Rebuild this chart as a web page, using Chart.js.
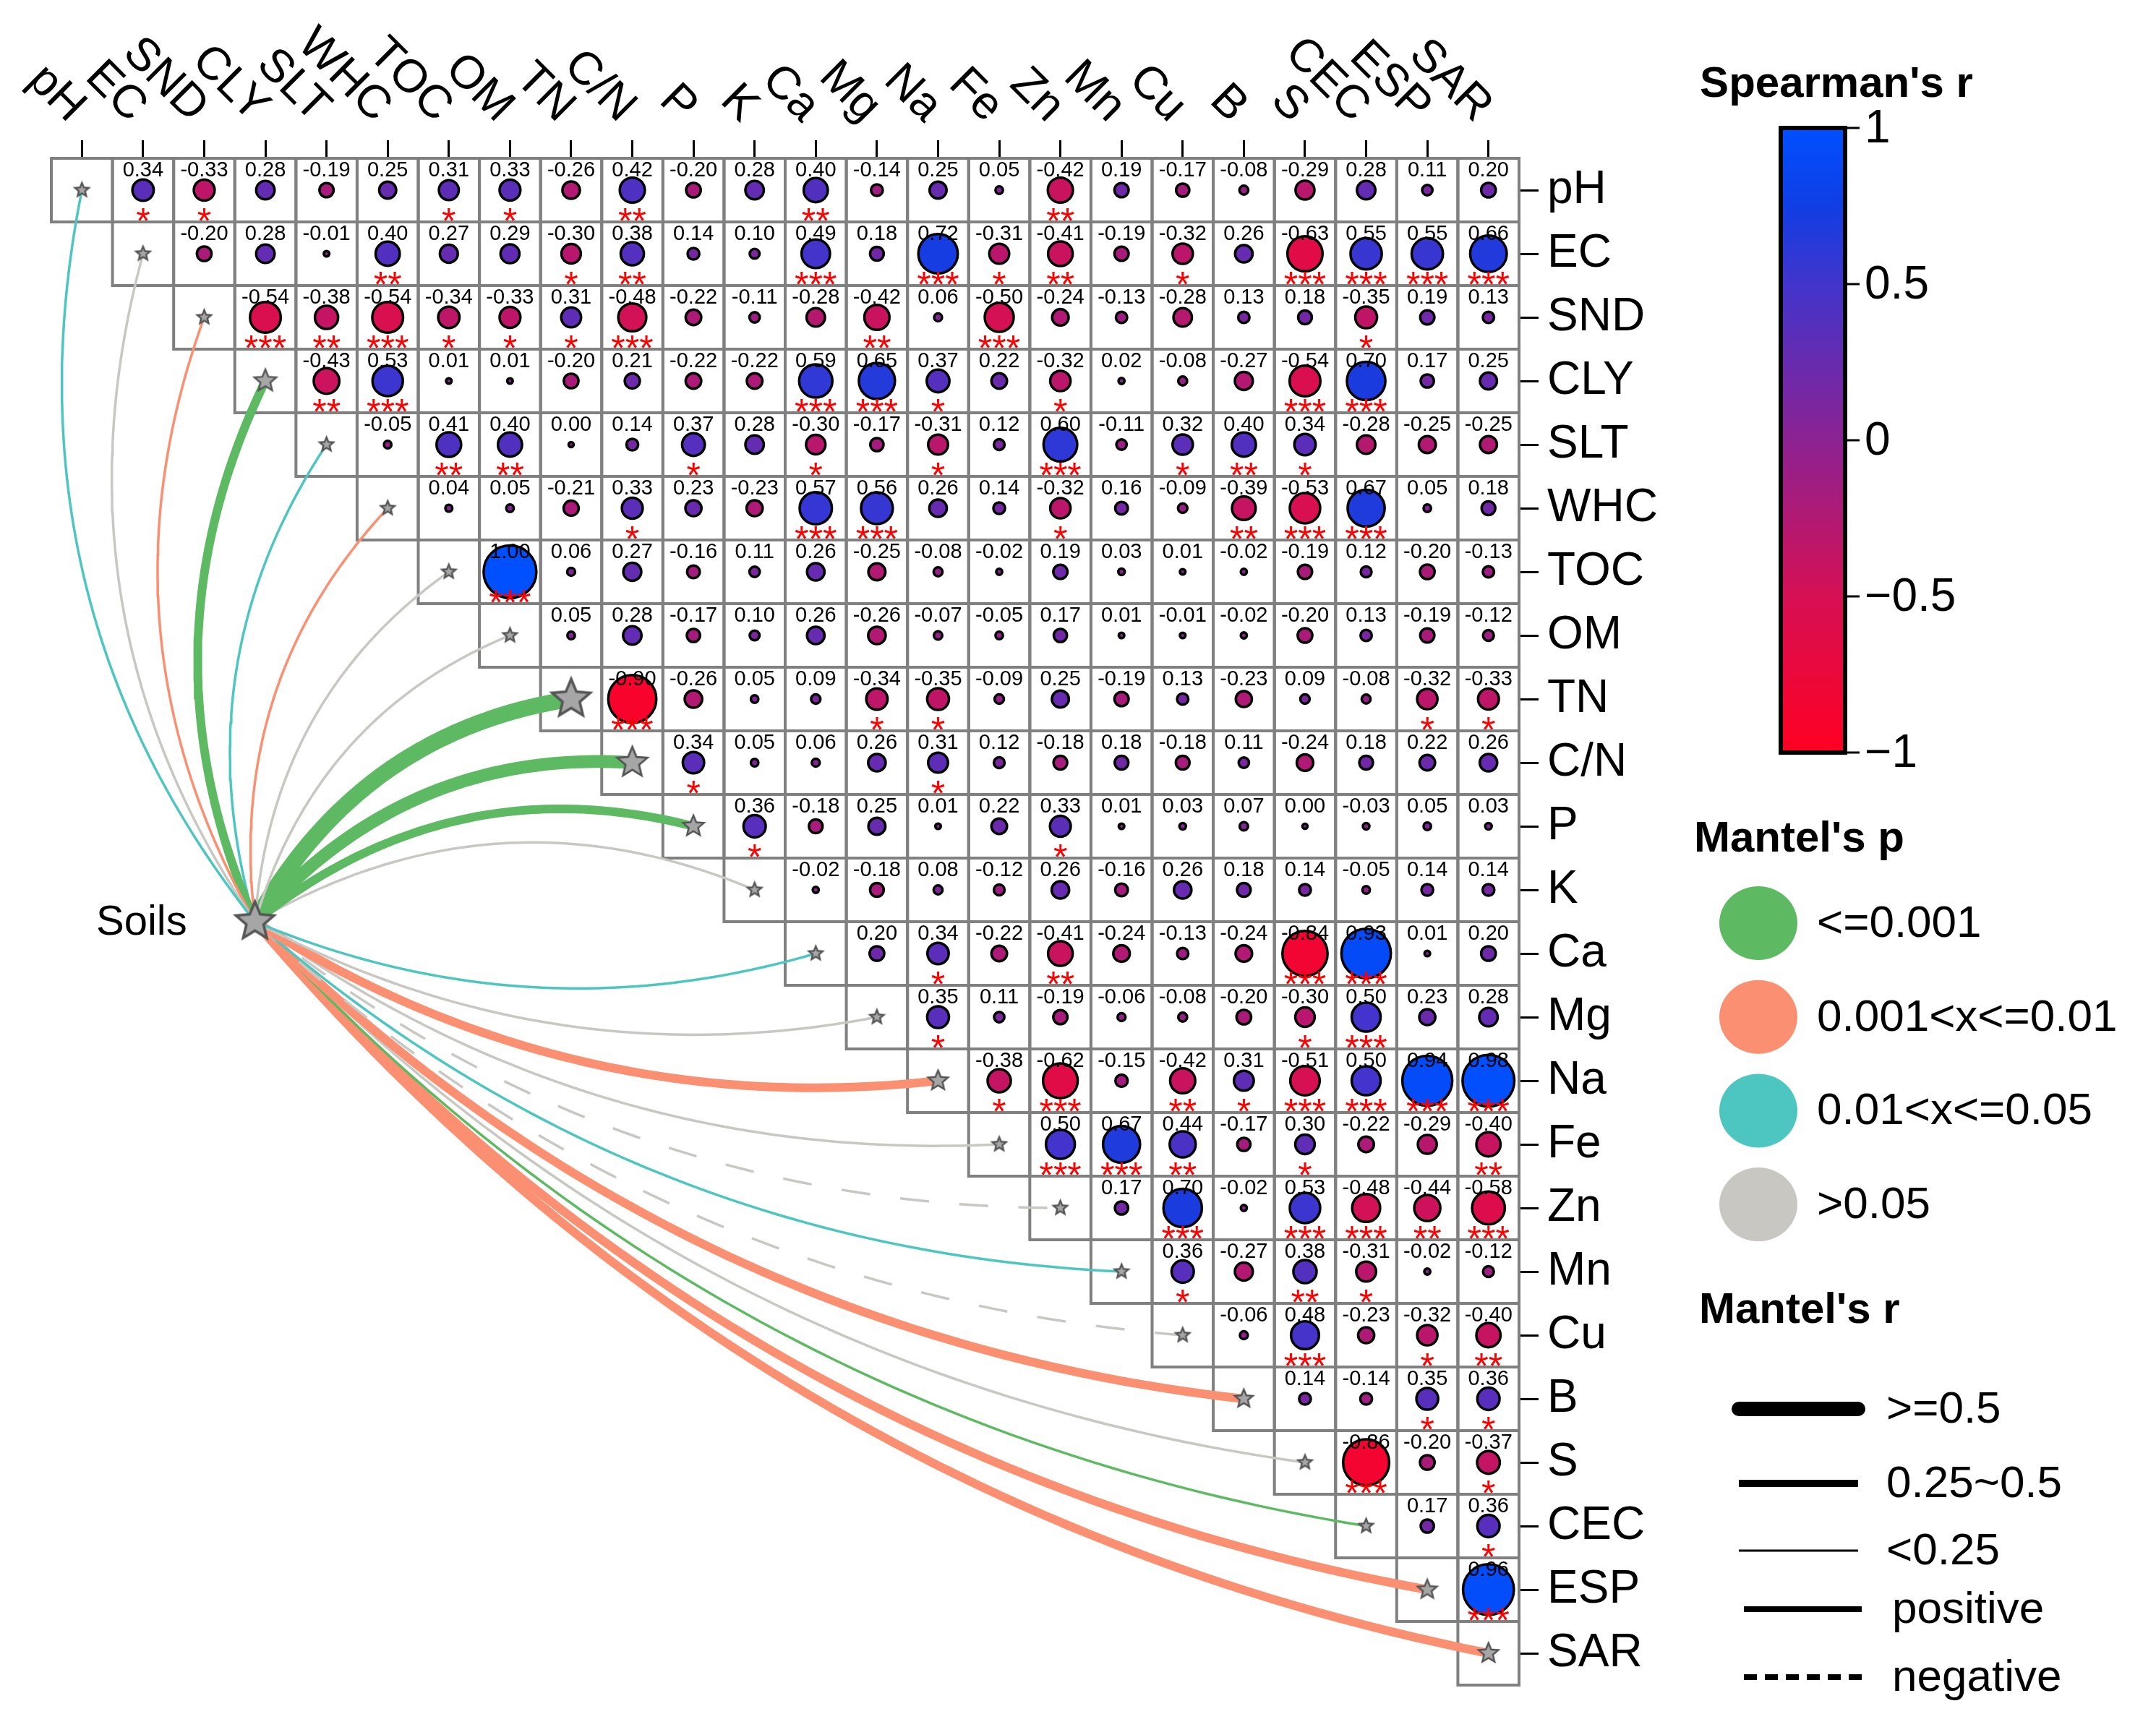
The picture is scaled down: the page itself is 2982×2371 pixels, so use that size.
<!DOCTYPE html>
<html>
<head>
<meta charset="utf-8">
<title>Spearman / Mantel correlation</title>
<script src="https://cdn.jsdelivr.net/npm/chart.js@4.4.1/dist/chart.umd.min.js"></script>
<style>
  html, body { margin: 0; padding: 0; background: #fff; }
  #mantelChart { display: block; }
</style>
</head>
<body>
<canvas id="mantelChart" width="2982" height="2371" style="width:2982px;height:2371px"></canvas>
<script>
const variables = ['pH', 'EC', 'SND', 'CLY', 'SLT', 'WHC', 'TOC', 'OM', 'TN', 'C/N', 'P', 'K',
                   'Ca', 'Mg', 'Na', 'Fe', 'Zn', 'Mn', 'Cu', 'B', 'S', 'CEC', 'ESP', 'SAR'];

// Spearman's r, upper triangle: each row starts at the column right after the diagonal
const r_pH  = [0.34, -0.33, 0.28, -0.19, 0.25, 0.31, 0.33, -0.26, 0.42, -0.20, 0.28, 0.40, -0.14, 0.25, 0.05, -0.42, 0.19, -0.17, -0.08, -0.29, 0.28, 0.11, 0.20];
const r_EC  = [-0.20, 0.28, -0.01, 0.40, 0.27, 0.29, -0.30, 0.38, 0.14, 0.10, 0.49, 0.18, 0.72, -0.31, -0.41, -0.19, -0.32, 0.26, -0.63, 0.55, 0.55, 0.66];
const r_SND = [-0.54, -0.38, -0.54, -0.34, -0.33, 0.31, -0.48, -0.22, -0.11, -0.28, -0.42, 0.06, -0.50, -0.24, -0.13, -0.28, 0.13, 0.18, -0.35, 0.19, 0.13];
const r_CLY = [-0.43, 0.53, 0.01, 0.01, -0.20, 0.21, -0.22, -0.22, 0.59, 0.65, 0.37, 0.22, -0.32, 0.02, -0.08, -0.27, -0.54, 0.70, 0.17, 0.25];
const r_SLT = [-0.05, 0.41, 0.40, 0.00, 0.14, 0.37, 0.28, -0.30, -0.17, -0.31, 0.12, 0.60, -0.11, 0.32, 0.40, 0.34, -0.28, -0.25, -0.25];
const r_WHC = [0.04, 0.05, -0.21, 0.33, 0.23, -0.23, 0.57, 0.56, 0.26, 0.14, -0.32, 0.16, -0.09, -0.39, -0.53, 0.67, 0.05, 0.18];
const r_TOC = [1.00, 0.06, 0.27, -0.16, 0.11, 0.26, -0.25, -0.08, -0.02, 0.19, 0.03, 0.01, -0.02, -0.19, 0.12, -0.20, -0.13];
const r_OM  = [0.05, 0.28, -0.17, 0.10, 0.26, -0.26, -0.07, -0.05, 0.17, 0.01, -0.01, -0.02, -0.20, 0.13, -0.19, -0.12];
const r_TN  = [-0.90, -0.26, 0.05, 0.09, -0.34, -0.35, -0.09, 0.25, -0.19, 0.13, -0.23, 0.09, -0.08, -0.32, -0.33];
const r_CN  = [0.34, 0.05, 0.06, 0.26, 0.31, 0.12, -0.18, 0.18, -0.18, 0.11, -0.24, 0.18, 0.22, 0.26];
const r_P   = [0.36, -0.18, 0.25, 0.01, 0.22, 0.33, 0.01, 0.03, 0.07, 0.00, -0.03, 0.05, 0.03];
const r_K   = [-0.02, -0.18, 0.08, -0.12, 0.26, -0.16, 0.26, 0.18, 0.14, -0.05, 0.14, 0.14];
const r_Ca  = [0.20, 0.34, -0.22, -0.41, -0.24, -0.13, -0.24, -0.84, 0.93, 0.01, 0.20];
const r_Mg  = [0.35, 0.11, -0.19, -0.06, -0.08, -0.20, -0.30, 0.50, 0.23, 0.28];
const r_Na  = [-0.38, -0.62, -0.15, -0.42, 0.31, -0.51, 0.50, 0.94, 0.98];
const r_Fe  = [0.50, 0.67, 0.44, -0.17, 0.30, -0.22, -0.29, -0.40];
const r_Zn  = [0.17, 0.70, -0.02, 0.53, -0.48, -0.44, -0.58];
const r_Mn  = [0.36, -0.27, 0.38, -0.31, -0.02, -0.12];
const r_Cu  = [-0.06, 0.48, -0.23, -0.32, -0.40];
const r_B   = [0.14, -0.14, 0.35, 0.36];
const r_S   = [-0.86, -0.20, -0.37];
const r_CEC = [0.17, 0.36];
const r_ESP = [0.96];

// significance, number of asterisks under each circle (same layout as above)
const sig_pH  = [1, 1, 0, 0, 0, 1, 1, 0, 2, 0, 0, 2, 0, 0, 0, 2, 0, 0, 0, 0, 0, 0, 0];
const sig_EC  = [0, 0, 0, 2, 0, 0, 1, 2, 0, 0, 3, 0, 3, 1, 2, 0, 1, 0, 3, 3, 3, 3];
const sig_SND = [3, 2, 3, 1, 1, 1, 3, 0, 0, 0, 2, 0, 3, 0, 0, 0, 0, 0, 1, 0, 0];
const sig_CLY = [2, 3, 0, 0, 0, 0, 0, 0, 3, 3, 1, 0, 1, 0, 0, 0, 3, 3, 0, 0];
const sig_SLT = [0, 2, 2, 0, 0, 1, 0, 1, 0, 1, 0, 3, 0, 1, 2, 1, 0, 0, 0];
const sig_WHC = [0, 0, 0, 1, 0, 0, 3, 3, 0, 0, 1, 0, 0, 2, 3, 3, 0, 0];
const sig_TOC = [3, 0, 0, 0, 0, 0, 0, 0, 0, 0, 0, 0, 0, 0, 0, 0, 0];
const sig_OM  = [0, 0, 0, 0, 0, 0, 0, 0, 0, 0, 0, 0, 0, 0, 0, 0];
const sig_TN  = [3, 0, 0, 0, 1, 1, 0, 0, 0, 0, 0, 0, 0, 1, 1];
const sig_CN  = [1, 0, 0, 0, 1, 0, 0, 0, 0, 0, 0, 0, 0, 0];
const sig_P   = [1, 0, 0, 0, 0, 1, 0, 0, 0, 0, 0, 0, 0];
const sig_K   = [0, 0, 0, 0, 0, 0, 0, 0, 0, 0, 0, 0];
const sig_Ca  = [0, 1, 0, 2, 0, 0, 0, 3, 3, 0, 0];
const sig_Mg  = [1, 0, 0, 0, 0, 0, 1, 3, 0, 0];
const sig_Na  = [1, 3, 0, 2, 1, 3, 3, 3, 3];
const sig_Fe  = [3, 3, 2, 0, 1, 0, 0, 2];
const sig_Zn  = [0, 3, 0, 3, 3, 2, 3];
const sig_Mn  = [1, 0, 2, 1, 0, 0];
const sig_Cu  = [0, 3, 0, 1, 2];
const sig_B   = [0, 0, 1, 1];
const sig_S   = [3, 0, 1];
const sig_CEC = [0, 1];
const sig_ESP = [3];

// Mantel test Soils vs each variable (estimated from line colour / width / dash)
const mantelP = [0.03, 0.30, 0.005, 0.001, 0.02, 0.004, 0.20, 0.30, 0.001, 0.001, 0.001, 0.40,
                 0.03, 0.20, 0.002, 0.30, 0.50, 0.04, 0.60, 0.006, 0.20, 0.001, 0.003, 0.002];
const mantelR = [0.12, 0.08, 0.14, 0.38, 0.12, 0.13, 0.09, 0.08, 0.66, 0.52, 0.36, 0.06,
                 0.16, 0.09, 0.34, 0.07, -0.05, 0.12, -0.06, 0.31, 0.08, 0.18, 0.33, 0.34];

const colorbarTicks = [1, 0.5, 0, -0.5, -1];
const pClassLabels = ['<=0.001', '0.001<x<=0.01', '0.01<x<=0.05', '>0.05'];
const rClassLabels = ['>=0.5', '0.25~0.5', '<0.25'];
const signLabels = ['positive', 'negative'];

const corrRows = [r_pH, r_EC, r_SND, r_CLY, r_SLT, r_WHC, r_TOC, r_OM, r_TN, r_CN, r_P, r_K,
                  r_Ca, r_Mg, r_Na, r_Fe, r_Zn, r_Mn, r_Cu, r_B, r_S, r_CEC, r_ESP];
const sigRows = [sig_pH, sig_EC, sig_SND, sig_CLY, sig_SLT, sig_WHC, sig_TOC, sig_OM, sig_TN, sig_CN, sig_P, sig_K,
                 sig_Ca, sig_Mg, sig_Na, sig_Fe, sig_Zn, sig_Mn, sig_Cu, sig_B, sig_S, sig_CEC, sig_ESP];

const FONT = '"Liberation Sans", Arial, Helvetica, sans-serif';
const pColors = ['#5DBA62', '#FA8F71', '#4DC6C1', '#C9C7C2'];
const soilsNode = { x: 3.33, y: 12.0 };   // where the "Soils" node sits, in cell units
const colorStops = [[-1, [255, 0, 34]], [-0.5, [214, 16, 84]], [0, [140, 34, 146]],
                    [0.5, [66, 52, 204]], [0.75, [16, 62, 228]], [1, [0, 80, 255]]];

function spearmanColor(v) {
    for (let k = 1; k < colorStops.length; k++) {
        const [v1, c1] = colorStops[k];
        if (v <= v1 || k === colorStops.length - 1) {
            const [v0, c0] = colorStops[k - 1];
            const t = Math.min(1, Math.max(0, (v - v0) / (v1 - v0)));
            return 'rgb(' + c0.map((c, n) => Math.round(c + (c1[n] - c) * t)).join(',') + ')';
        }
    }
}

function pClass(p) { return p <= 0.001 ? 0 : p <= 0.01 ? 1 : p <= 0.05 ? 2 : 3; }
function linkWidth(r) { const a = Math.abs(r); return a < 0.25 ? 3.5 : a < 0.5 ? 12 : 34 * a; }
function starRadius(r) { return Math.max(10, 42 * Math.abs(r)); }

const starCache = {};
function starImage(R) {
    const key = R.toFixed(1);
    if (starCache[key]) return starCache[key];
    const lw = Math.max(2.5, R * 0.13);
    const size = Math.ceil(2 * (R + lw) + 4);
    const c = document.createElement('canvas');
    c.width = c.height = size;
    const g = c.getContext('2d');
    g.translate(size / 2, size / 2);
    g.beginPath();
    for (let k = 0; k < 10; k++) {
        const rad = k % 2 === 0 ? R : R * 0.45;
        const a = -Math.PI / 2 + k * Math.PI / 5;
        g.lineTo(rad * Math.cos(a), rad * Math.sin(a));
    }
    g.closePath();
    g.fillStyle = '#A6A6A6';
    g.fill();
    g.lineWidth = lw;
    g.strokeStyle = '#555555';
    g.stroke();
    starCache[key] = c;
    return c;
}

// quadratic curve from the Soils node to the diagonal cell of variable i
function curvePoints(i) {
    const s = soilsNode, tx = i + 0.5, ty = i + 0.5;
    const dx = tx - s.x, dy = ty - s.y, len = Math.hypot(dx, dy);
    const up = dy < 0;
    const nx = up ? dy / len : -dy / len;
    const ny = up ? -dx / len : dx / len;
    const bend = up ? 0.24 : 0.17;
    const cx = (s.x + tx) / 2 + nx * bend * len;
    const cy = (s.y + ty) / 2 + ny * bend * len;
    const pts = [];
    for (let k = 0; k <= 60; k++) {
        const t = k / 60, a = (1 - t) * (1 - t), b = 2 * t * (1 - t), c = t * t;
        pts.push({ x: a * s.x + b * cx + c * tx, y: a * s.y + b * cy + c * ty });
    }
    return pts;
}

function centredTicks(axis) {
    axis.ticks = variables.map((_, i) => ({ value: i + 0.5 }));
}

const cellGrid = {
    id: 'cellGrid',
    beforeDatasetsDraw(chart) {
        const { ctx, scales: { x, y } } = chart;
        ctx.save();
        ctx.strokeStyle = '#808080';
        ctx.lineWidth = 4;
        for (let i = 0; i < variables.length; i++) {
            for (let j = i; j < variables.length; j++) {
                const x0 = x.getPixelForValue(j), x1 = x.getPixelForValue(j + 1);
                const y0 = y.getPixelForValue(i), y1 = y.getPixelForValue(i + 1);
                ctx.strokeRect(x0, y0, x1 - x0, y1 - y0);
            }
        }
        ctx.restore();
    }
};

const cellText = {
    id: 'cellText',
    afterDatasetsDraw(chart) {
        const { ctx, scales: { x, y } } = chart;
        ctx.save();
        ctx.textAlign = 'center';
        ctx.textBaseline = 'alphabetic';
        chart.data.datasets[variables.length].data.forEach(c => {
            const px = x.getPixelForValue(c.x), py = y.getPixelForValue(c.y);
            ctx.font = '29px ' + FONT;
            ctx.fillStyle = '#000';
            ctx.fillText(c.v.toFixed(2), px, py - 19);
            if (c.sig) {
                ctx.font = '50px ' + FONT;
                ctx.fillStyle = '#FF0000';
                ctx.fillText('*'.repeat(c.sig), px, py + 60);
            }
        });
        ctx.restore();
    }
};

const decorations = {
    id: 'decorations',
    afterDraw(chart) {
        const { ctx, scales: { x, y } } = chart;
        ctx.save();
        ctx.fillStyle = '#000';

        // column names, slanted
        ctx.font = '64px ' + FONT;
        ctx.textAlign = 'right';
        ctx.textBaseline = 'alphabetic';
        variables.forEach((name, j) => {
            ctx.save();
            ctx.translate(x.getPixelForValue(j + 0.5) - 19, 171);
            ctx.rotate(Math.PI / 4);
            ctx.fillText(name, 0, 0);
            ctx.restore();
        });

        // Soils label
        ctx.font = '58px ' + FONT;
        ctx.textAlign = 'right';
        ctx.textBaseline = 'middle';
        ctx.fillText('Soils', x.getPixelForValue(soilsNode.x) - 94, y.getPixelForValue(soilsNode.y) + 2);

        // Spearman colour bar
        const cbL = 2463, cbR = 2552, cbT = 177, cbB = 1041;
        const grad = ctx.createLinearGradient(0, cbT, 0, cbB);
        colorStops.forEach(([v, c]) => grad.addColorStop((1 - v) / 2, 'rgb(' + c.join(',') + ')'));
        ctx.fillStyle = grad;
        ctx.fillRect(cbL, cbT, cbR - cbL, cbB - cbT);
        ctx.lineWidth = 6;
        ctx.strokeStyle = '#000';
        ctx.strokeRect(cbL, cbT, cbR - cbL, cbB - cbT);
        ctx.fillStyle = '#000';
        ctx.font = '64px ' + FONT;
        ctx.textAlign = 'left';
        colorbarTicks.forEach(v => {
            const ty = cbT + (1 - v) / 2 * (cbB - cbT);
            ctx.lineWidth = 3;
            ctx.beginPath();
            ctx.moveTo(cbR, ty);
            ctx.lineTo(cbR + 20, ty);
            ctx.stroke();
            ctx.fillText(v < 0 ? '\u2212' + Math.abs(v) : String(v), cbR + 27, ty + 2);
        });
        ctx.font = 'bold 60px ' + FONT;
        ctx.textAlign = 'center';
        ctx.fillText("Spearman's r", 2540, 117);

        // Mantel's p legend
        ctx.textAlign = 'left';
        ctx.fillText("Mantel's p", 2343, 1161);
        ctx.font = '62px ' + FONT;
        pClassLabels.forEach((lab, k) => {
            const cy = 1277 + k * 129.7;
            ctx.fillStyle = pColors[k];
            ctx.beginPath();
            ctx.ellipse(2432, cy, 54, 51, 0, 0, Math.PI * 2);
            ctx.fill();
            ctx.fillStyle = '#000';
            ctx.fillText(lab, 2513, cy + 2);
        });

        // Mantel's r legend
        ctx.font = 'bold 60px ' + FONT;
        ctx.fillText("Mantel's r", 2350, 1813);
        ctx.font = '62px ' + FONT;
        const widths = [20, 10, 3];
        const rows = [1949, 2052, 2145];
        ctx.strokeStyle = '#000';
        rClassLabels.forEach((lab, k) => {
            ctx.lineWidth = widths[k];
            ctx.lineCap = k === 0 ? 'round' : 'butt';
            ctx.beginPath();
            ctx.moveTo(2405, rows[k]);
            ctx.lineTo(2570, rows[k]);
            ctx.stroke();
            ctx.fillText(lab, 2609, rows[k] + 2);
        });
        ctx.lineCap = 'butt';
        signLabels.forEach((lab, k) => {
            const ly = k === 0 ? 2226 : 2320;
            ctx.lineWidth = 8;
            ctx.setLineDash(k === 0 ? [] : [18, 11]);
            ctx.beginPath();
            ctx.moveTo(2412, ly);
            ctx.lineTo(2575, ly);
            ctx.stroke();
            ctx.setLineDash([]);
            ctx.fillText(lab, 2617, ly + 2);
        });
        ctx.restore();
    }
};

function renderChart() {
    const cells = [];
    corrRows.forEach((row, i) => row.forEach((v, k) => {
        cells.push({ x: i + k + 1.5, y: i + 0.5, v: v, sig: sigRows[i][k] });
    }));

    const linkSets = variables.map((name, i) => ({
        label: 'Soils - ' + name,
        data: curvePoints(i),
        showLine: true,
        pointRadius: 0,
        pointHitRadius: 0,
        borderColor: pColors[pClass(mantelP[i])],
        borderWidth: linkWidth(mantelR[i]),
        borderDash: mantelR[i] < 0 ? [40, 42] : [],
        clip: false,
        order: 3
    }));

    const circleSet = {
        label: "Spearman's r",
        data: cells,
        pointStyle: 'circle',
        pointRadius: ctx => ctx.raw ? 3.5 + 33 * Math.abs(ctx.raw.v) : 3,
        pointBackgroundColor: ctx => ctx.raw ? spearmanColor(ctx.raw.v) : '#888',
        pointBorderColor: '#000',
        pointBorderWidth: 3.5,
        order: 2
    };

    const nodeSet = {
        label: 'nodes',
        data: variables.map((name, i) => ({ x: i + 0.5, y: i + 0.5, mr: mantelR[i] }))
            .concat([{ x: soilsNode.x, y: soilsNode.y, mr: 0.66 }]),
        pointStyle: ctx => ctx.raw ? starImage(starRadius(ctx.raw.mr)) : 'circle',
        pointRadius: ctx => ctx.raw ? starRadius(ctx.raw.mr) : 3,
        clip: false,
        order: 1
    };

    new Chart(document.getElementById('mantelChart'), {
        type: 'scatter',
        data: { datasets: linkSets.concat([circleSet, nodeSet]) },
        options: {
            responsive: false,
            devicePixelRatio: 1,
            animation: false,
            events: [],
            layout: { padding: { left: 71, top: 194, right: 0, bottom: 34 } },
            plugins: { legend: { display: false }, tooltip: { enabled: false } },
            scales: {
                x: {
                    type: 'linear', position: 'top', min: 0, max: 24,
                    afterBuildTicks: centredTicks,
                    afterFit: axis => { axis.height = 25; axis.paddingLeft = 0; axis.paddingRight = 0; },
                    ticks: { display: false },
                    grid: { drawOnChartArea: false, drawTicks: true, tickLength: 25, tickWidth: 3, tickColor: '#000' },
                    border: { display: false }
                },
                y: {
                    type: 'linear', position: 'right', reverse: true, min: 0, max: 24,
                    afterBuildTicks: centredTicks,
                    afterFit: axis => { axis.width = 881; axis.paddingTop = 0; axis.paddingBottom = 0; },
                    ticks: {
                        autoSkip: false,
                        padding: 12,
                        color: '#000',
                        font: { size: 64, family: FONT },
                        callback: (value, index) => variables[index]
                    },
                    grid: { drawOnChartArea: false, drawTicks: true, tickLength: 27, tickWidth: 3, tickColor: '#000' },
                    border: { display: false }
                }
            }
        },
        plugins: [cellGrid, cellText, decorations]
    });
}

document.addEventListener('DOMContentLoaded', renderChart);
</script>
</body>
</html>
